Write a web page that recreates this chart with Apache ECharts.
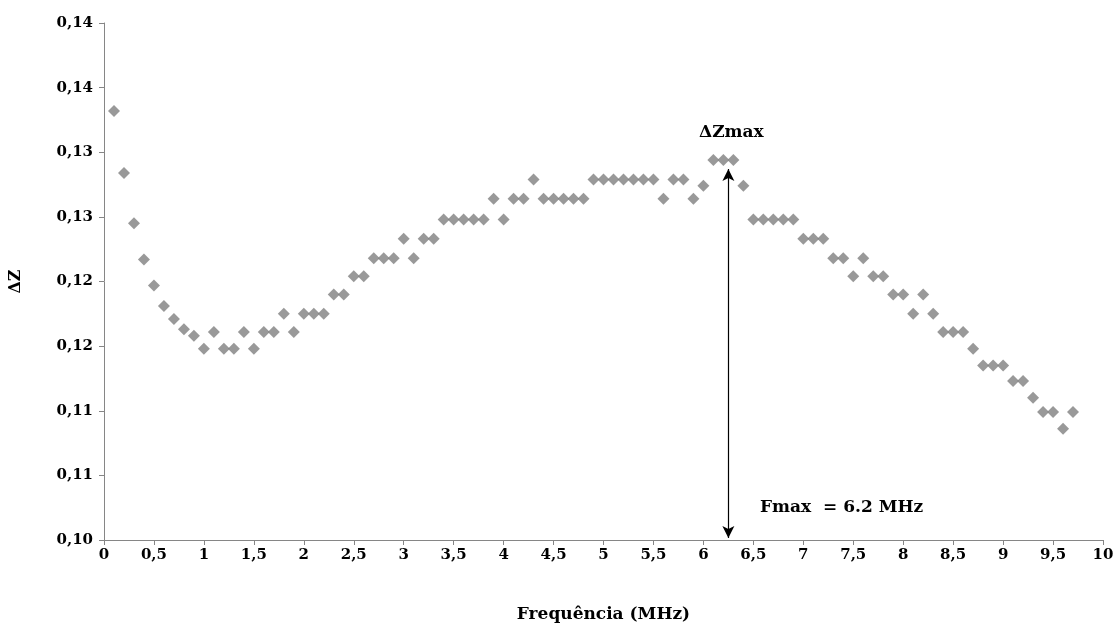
<!DOCTYPE html>
<html>
<head>
<meta charset="utf-8">
<script src="https://cdn.jsdelivr.net/npm/echarts@6/dist/echarts.min.js"></script>
<style>
  html, body { margin: 0; padding: 0; background: #fff; }
  #plot { width: 1117px; height: 625px; }
</style>
</head>
<body>
<div id="plot"></div>
<script>
// frequency in MHz, 0.1 .. 9.7
const freq = [
  0.1, 0.2, 0.3, 0.4, 0.5, 0.6, 0.7, 0.8, 0.9, 1.0,
  1.1, 1.2, 1.3, 1.4, 1.5, 1.6, 1.7, 1.8, 1.9, 2.0,
  2.1, 2.2, 2.3, 2.4, 2.5, 2.6, 2.7, 2.8, 2.9, 3.0,
  3.1, 3.2, 3.3, 3.4, 3.5, 3.6, 3.7, 3.8, 3.9, 4.0,
  4.1, 4.2, 4.3, 4.4, 4.5, 4.6, 4.7, 4.8, 4.9, 5.0,
  5.1, 5.2, 5.3, 5.4, 5.5, 5.6, 5.7, 5.8, 5.9, 6.0,
  6.1, 6.2, 6.3, 6.4, 6.5, 6.6, 6.7, 6.8, 6.9, 7.0,
  7.1, 7.2, 7.3, 7.4, 7.5, 7.6, 7.7, 7.8, 7.9, 8.0,
  8.1, 8.2, 8.3, 8.4, 8.5, 8.6, 8.7, 8.8, 8.9, 9.0,
  9.1, 9.2, 9.3, 9.4, 9.5, 9.6, 9.7
];
const deltaZ = [
  0.1332, 0.1284, 0.1245, 0.1217, 0.1197, 0.1181, 0.1171, 0.1163, 0.1158, 0.1148,
  0.1161, 0.1148, 0.1148, 0.1161, 0.1148, 0.1161, 0.1161, 0.1175, 0.1161, 0.1175,
  0.1175, 0.1175, 0.1190, 0.1190, 0.1204, 0.1204, 0.1218, 0.1218, 0.1218, 0.1233,
  0.1218, 0.1233, 0.1233, 0.1248, 0.1248, 0.1248, 0.1248, 0.1248, 0.1264, 0.1248,
  0.1264, 0.1264, 0.1279, 0.1264, 0.1264, 0.1264, 0.1264, 0.1264, 0.1279, 0.1279,
  0.1279, 0.1279, 0.1279, 0.1279, 0.1279, 0.1264, 0.1279, 0.1279, 0.1264, 0.1274,
  0.1294, 0.1294, 0.1294, 0.1274, 0.1248, 0.1248, 0.1248, 0.1248, 0.1248, 0.1233,
  0.1233, 0.1233, 0.1218, 0.1218, 0.1204, 0.1218, 0.1204, 0.1204, 0.1190, 0.1190,
  0.1175, 0.1190, 0.1175, 0.1161, 0.1161, 0.1161, 0.1148, 0.1135, 0.1135, 0.1135,
  0.1123, 0.1123, 0.1110, 0.1099, 0.1099, 0.1086, 0.1099
];
// Excel-style rounded tick labels
const yTickLabels = ['0,10', '0,11', '0,11', '0,12', '0,12', '0,13', '0,13', '0,14', '0,14'];

const fmaxFreq = 6.25;

const chart = echarts.init(document.getElementById('plot'));
const font = 'DejaVu Serif';
const axisColor = '#868686';

chart.setOption({
  animation: false,
  grid: { left: 104, right: 14, top: 23, bottom: 85, outerBoundsMode: 'none' },
  xAxis: {
    type: 'value',
    min: 0, max: 10, interval: 0.5,
    name: 'Frequência (MHz)',
    nameLocation: 'middle',
    nameGap: 66,
    nameTextStyle: { fontFamily: font, fontWeight: 'bold', fontSize: 17, color: '#000' },
    axisLine: { show: true, lineStyle: { color: axisColor, width: 1 } },
    axisTick: { show: true, length: 5, lineStyle: { color: axisColor } },
    splitLine: { show: false },
    axisLabel: {
      margin: 8,
      fontFamily: font, fontWeight: 'bold', fontSize: 15, color: '#000',
      formatter: v => String(v).replace('.', ',')
    }
  },
  yAxis: {
    type: 'value',
    min: 0.1, max: 0.14, interval: 0.005,
    name: 'ΔZ',
    nameLocation: 'middle',
    nameGap: 80,
    nameRotate: 90,
    nameTextStyle: { fontFamily: font, fontWeight: 'bold', fontSize: 16, color: '#000' },
    axisLine: { show: true, lineStyle: { color: axisColor, width: 1 } },
    axisTick: { show: true, length: 5, lineStyle: { color: axisColor } },
    splitLine: { show: false },
    axisLabel: {
      margin: 11,
      fontFamily: font, fontWeight: 'bold', fontSize: 15, color: '#000',
      formatter: (v, i) => yTickLabels[i]
    }
  },
  series: [{
    type: 'scatter',
    symbol: 'diamond',
    symbolSize: 12,
    itemStyle: { color: '#7f7f7f' },
    data: freq.map((f, i) => [f, deltaZ[i]]),
    markLine: {
      silent: true,
      symbol: ['arrow', 'arrow'],
      symbolSize: [9, 12],
      label: { show: false },
      lineStyle: { color: '#000', width: 1.2, type: 'solid' },
      data: [[
        { coord: [fmaxFreq, 0.10015] },
        { coord: [fmaxFreq, 0.1287] }
      ]]
    }
  }],
  graphic: [
    {
      type: 'text', left: 699, top: 124,
      style: { text: 'ΔZmax', fontFamily: font, fontWeight: 'bold', fontSize: 17, fill: '#000' }
    },
    {
      type: 'text', left: 760, top: 499,
      style: { text: 'Fmax  = 6.2 MHz', fontFamily: font, fontWeight: 'bold', fontSize: 17, fill: '#000' }
    }
  ]
});
</script>
</body>
</html>
